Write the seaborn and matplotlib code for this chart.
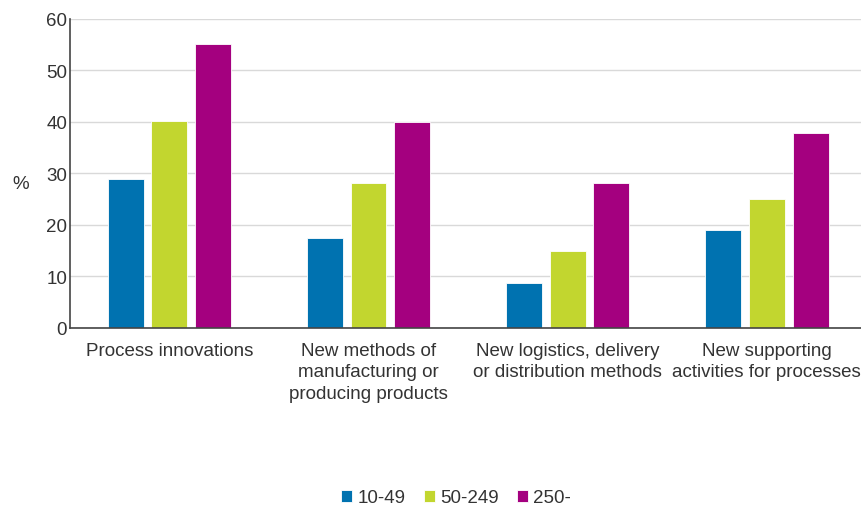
import numpy as np
import pandas as pd
import matplotlib
matplotlib.use("Agg")
import matplotlib.pyplot as plt
import seaborn as sns

categories = ["Process innovations",
              "New methods of\nmanufacturing or\nproducing products",
              "New logistics, delivery\nor distribution methods",
              "New supporting\nactivities for processes"]
size_classes = ["10-49", "50-249", "250-"]
small = [28.9, 17.5, 8.8, 19.1]
medium = [40.2, 28.1, 15.0, 25.0]
large = [55.1, 39.9, 28.1, 37.8]
colors = ["#0072B0", "#C2D62F", "#A4007F"]

df = pd.DataFrame({
    "category": categories * 3,
    "size": np.repeat(size_classes, len(categories)),
    "value": small + medium + large,
})

sns.set_style("white")
plt.rcParams["font.family"] = ["Liberation Sans", "DejaVu Sans"]
plt.rcParams["text.color"] = "#333333"
fs = 13.5

fig = plt.figure(figsize=(8.62, 5.1), dpi=100)
ax = fig.add_axes([0.081, 0.355, 0.924, 0.606])

sns.barplot(data=df, x="category", y="value", hue="size", palette=colors,
            width=0.66, gap=0.18, edgecolor="white", linewidth=0.6,
            saturation=1, ax=ax)

ax.set_ylim(0, 60)
ax.set_xlim(-0.5, 3.5)
ax.set_yticks(range(0, 61, 10))
ax.yaxis.grid(True, color="#d9d9d9", linewidth=1)
ax.set_axisbelow(True)
for s in ["top", "right"]:
    ax.spines[s].set_visible(False)
ax.spines["left"].set_color("#444444")
ax.spines["bottom"].set_color("#444444")
ax.spines["left"].set_linewidth(1.2)
ax.spines["bottom"].set_linewidth(1.2)
ax.tick_params(axis="both", length=0, labelsize=fs, colors="#333333")
ax.tick_params(axis="y", pad=2)
ax.tick_params(axis="x", pad=10)
for lbl in ax.get_xticklabels():
    lbl.set_linespacing(1.35)
ax.set_xlabel("")
ax.set_ylabel("%", rotation=0, fontsize=fs, color="#333333")
ax.yaxis.set_label_coords(-0.062, 0.44)

ax.legend(loc="center", bbox_to_anchor=(0.485, -0.55), ncol=3, frameon=False,
          fontsize=fs, handlelength=0.6, handleheight=0.6, handletextpad=0.25,
          columnspacing=1.0)

fig.savefig("out.png", dpi=100)
